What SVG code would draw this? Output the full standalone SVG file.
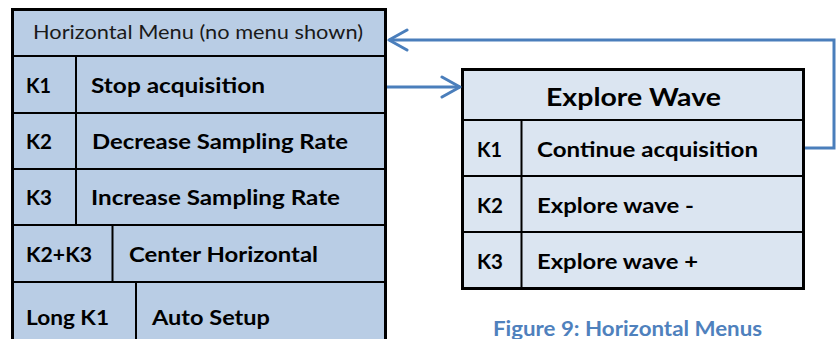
<svg xmlns="http://www.w3.org/2000/svg" width="838" height="339" viewBox="0 0 838 339">
  <defs>
    <style>
      .bg{fill:#ffffff}
      .tl{fill:#b9cde5;stroke:#000;stroke-width:3}
      .tr{fill:#dbe5f1;stroke:#000;stroke-width:3}
      .ln{stroke:#000;stroke-width:2;fill:none}
      .t{font-family:Lato,"Liberation Sans",sans-serif;fill:#000;font-weight:bold;font-size:21.5px}
      .h{font-family:Lato,"Liberation Sans",sans-serif;fill:#1a1a1a;font-size:19px}
      .hw{font-family:Lato,"Liberation Sans",sans-serif;fill:#000;font-weight:bold;font-size:24px}
      .cap{font-family:Lato,"Liberation Sans",sans-serif;fill:#4f81bd;font-weight:bold;font-size:21px}
      .con{fill:none;stroke:#4a7ebb;stroke-width:3}
    </style>
    <marker id="arr" viewBox="0 0 22 24" refX="20" refY="12" markerWidth="22" markerHeight="24" markerUnits="userSpaceOnUse" orient="auto">
      <path d="M2,2 L20,12 L2,22" fill="none" stroke="#4a7ebb" stroke-width="3" stroke-linejoin="round" stroke-linecap="round"/>
    </marker>
  </defs>
  <rect class="bg" x="0" y="0" width="838" height="339"/>

  <g id="horizontal-menu">
    <rect class="tl" x="12.5" y="9.5" width="373" height="345"/>
    <path class="ln" d="M12,56 H386 M12,113 H386 M12,169 H386 M12,225 H386 M12,282 H386 M76,56 V225 M112.5,225 V282 M136,282 V345"/>
    <text class="h" x="33" y="39" textLength="330" lengthAdjust="spacingAndGlyphs">Horizontal Menu (no menu shown)</text>
    <text class="t" x="26" y="93" textLength="25" lengthAdjust="spacingAndGlyphs">K1</text>
    <text class="t" x="91" y="93" textLength="174" lengthAdjust="spacingAndGlyphs">Stop acquisition</text>
    <text class="t" x="26" y="149" textLength="26" lengthAdjust="spacingAndGlyphs">K2</text>
    <text class="t" x="92" y="149" textLength="256" lengthAdjust="spacingAndGlyphs">Decrease Sampling Rate</text>
    <text class="t" x="26" y="205" textLength="26" lengthAdjust="spacingAndGlyphs">K3</text>
    <text class="t" x="91" y="205" textLength="249" lengthAdjust="spacingAndGlyphs">Increase Sampling Rate</text>
    <text class="t" x="26" y="262" textLength="66" lengthAdjust="spacingAndGlyphs">K2+K3</text>
    <text class="t" x="129" y="262" textLength="189" lengthAdjust="spacingAndGlyphs">Center Horizontal</text>
    <text class="t" x="26" y="325" textLength="83" lengthAdjust="spacingAndGlyphs">Long K1</text>
    <text class="t" x="152" y="325" textLength="118" lengthAdjust="spacingAndGlyphs">Auto Setup</text>
  </g>

  <g id="explore-wave">
    <rect class="tr" x="462.5" y="69.5" width="341" height="219"/>
    <path class="ln" d="M462,120 H804 M462,176 H804 M462,232 H804 M521.5,120 V289"/>
    <text class="hw" x="546" y="106" textLength="175" lengthAdjust="spacingAndGlyphs">Explore Wave</text>
    <text class="t" x="477" y="157" textLength="25" lengthAdjust="spacingAndGlyphs">K1</text>
    <text class="t" x="537" y="157" textLength="221" lengthAdjust="spacingAndGlyphs">Continue acquisition</text>
    <text class="t" x="477" y="213" textLength="26" lengthAdjust="spacingAndGlyphs">K2</text>
    <text class="t" x="537" y="213" textLength="157" lengthAdjust="spacingAndGlyphs">Explore wave -</text>
    <text class="t" x="477" y="269" textLength="26" lengthAdjust="spacingAndGlyphs">K3</text>
    <text class="t" x="537" y="269" textLength="161" lengthAdjust="spacingAndGlyphs">Explore wave +</text>
  </g>

  <g id="connectors">
    <path class="con" d="M805,148 H834 V40 H389" marker-end="url(#arr)"/>
    <path class="con" d="M387,87 H460" marker-end="url(#arr)"/>
  </g>

  <text class="cap" x="493" y="336" textLength="269" lengthAdjust="spacingAndGlyphs">Figure 9: Horizontal Menus</text>
</svg>
